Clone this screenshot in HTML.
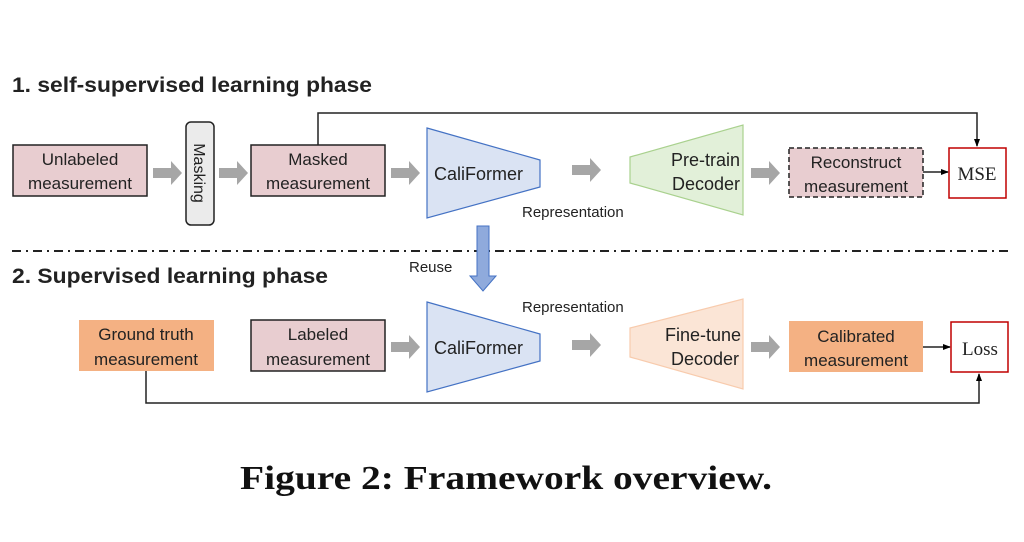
<!DOCTYPE html>
<html><head><meta charset="utf-8"><style>
html,body{margin:0;padding:0;background:#fff;}
svg{display:block;}
</style></head><body>
<svg width="1024" height="542" viewBox="0 0 1024 542" xmlns="http://www.w3.org/2000/svg">
<defs>
<marker id="ah" markerWidth="8" markerHeight="8" refX="7" refY="4" orient="auto" markerUnits="userSpaceOnUse">
<path d="M0,1 L8,4 L0,7 z" fill="#000"/></marker>
</defs>
<g font-family="Liberation Sans, sans-serif">
<g fill="#222">
<text x="12" y="92" font-size="21" font-weight="bold" textLength="360" lengthAdjust="spacingAndGlyphs">1. self-supervised learning phase</text>
<text x="12" y="283" font-size="21" font-weight="bold" textLength="316" lengthAdjust="spacingAndGlyphs">2. Supervised learning phase</text>
</g>
<polyline points="318,145 318,113 977,113 977,146" fill="none" stroke="#222" stroke-width="1.5" marker-end="url(#ah)"/>
<polyline points="146,371 146,403 979,403 979,374" fill="none" stroke="#222" stroke-width="1.5" marker-end="url(#ah)"/>
<line x1="923" y1="172" x2="948" y2="172" stroke="#222" stroke-width="1.5" marker-end="url(#ah)"/>
<line x1="923" y1="347" x2="950" y2="347" stroke="#222" stroke-width="1.5" marker-end="url(#ah)"/>
<line x1="12" y1="251" x2="1008" y2="251" stroke="#222" stroke-width="2" stroke-dasharray="9,5,2,5"/>
<g font-size="17" fill="#222" text-anchor="middle">
<rect x="13" y="145" width="134" height="51" fill="#e8cdd0" stroke="#222" stroke-width="1.5"/>
<text x="80" y="165">Unlabeled</text><text x="80" y="189">measurement</text>
<rect x="186" y="122" width="28" height="103" rx="5" fill="#ebebeb" stroke="#222" stroke-width="1.5"/>
<text transform="translate(194,173) rotate(90)" font-size="16">Masking</text>
<rect x="251" y="145" width="134" height="51" fill="#e8cdd0" stroke="#222" stroke-width="1.5"/>
<text x="318" y="165">Masked</text><text x="318" y="189">measurement</text>
<rect x="789" y="148" width="134" height="49" fill="#e8cdd0" stroke="#222" stroke-width="1.5" stroke-dasharray="5,3"/>
<text x="856" y="168">Reconstruct</text><text x="856" y="192">measurement</text>
<rect x="949" y="148" width="57" height="50" fill="#fff" stroke="#c00000" stroke-width="1.5"/>
<text x="977" y="180" font-family="Liberation Serif, serif" font-size="19">MSE</text>
<rect x="79" y="320" width="135" height="51" fill="#f4b183"/>
<text x="146" y="340">Ground truth</text><text x="146" y="365">measurement</text>
<rect x="251" y="320" width="134" height="51" fill="#e8cdd0" stroke="#222" stroke-width="1.5"/>
<text x="318" y="340">Labeled</text><text x="318" y="365">measurement</text>
<rect x="789" y="321" width="134" height="51" fill="#f4b183"/>
<text x="856" y="342">Calibrated</text><text x="856" y="366">measurement</text>
<rect x="951" y="322" width="57" height="50" fill="#fff" stroke="#c00000" stroke-width="1.5"/>
<text x="980" y="355" font-family="Liberation Serif, serif" font-size="19">Loss</text>
</g>
<polygon points="427,128 540,160 540,187 427,218" fill="#dae3f3" stroke="#4472c4" stroke-width="1.2"/>
<polygon points="427,302 540,334 540,361 427,392" fill="#dae3f3" stroke="#4472c4" stroke-width="1.2"/>
<polygon points="630,157 743,125 743,215 630,183" fill="#e2f0d9" stroke="#a9d18e" stroke-width="1.2"/>
<polygon points="630,328 743,299 743,389 630,357" fill="#fbe5d6" stroke="#f8cbad" stroke-width="1.2"/>
<g font-size="18" fill="#222">
<text x="434" y="180">CaliFormer</text>
<text x="434" y="354">CaliFormer</text>
<text x="740" y="166" text-anchor="end">Pre-train</text>
<text x="740" y="190" text-anchor="end">Decoder</text>
<text x="741" y="341" text-anchor="end">Fine-tune</text>
<text x="739" y="365" text-anchor="end">Decoder</text>
</g>
<g font-size="15" fill="#222">
<text x="522" y="217">Representation</text>
<text x="522" y="312">Representation</text>
<text x="409" y="272">Reuse</text>
</g>
<g fill="#a6a6a6">
<path d="M153,168 h18 v-7 l11,12 l-11,12 v-7 h-18 z"/>
<path d="M219,168 h18 v-7 l11,12 l-11,12 v-7 h-18 z"/>
<path d="M391,168 h18 v-7 l11,12 l-11,12 v-7 h-18 z"/>
<path d="M572,165 h18 v-7 l11,12 l-11,12 v-7 h-18 z"/>
<path d="M751,168 h18 v-7 l11,12 l-11,12 v-7 h-18 z"/>
<path d="M391,342 h18 v-7 l11,12 l-11,12 v-7 h-18 z"/>
<path d="M572,340 h18 v-7 l11,12 l-11,12 v-7 h-18 z"/>
<path d="M751,342 h18 v-7 l11,12 l-11,12 v-7 h-18 z"/>
</g>
<path d="M477,226 h12 v50 h7 l-13,15 l-13,-15 h7 z" fill="#8faadc" stroke="#4472c4" stroke-width="1"/>
<text x="240" y="489" font-family="Liberation Serif, serif" font-size="34" font-weight="bold" fill="#111" textLength="532" lengthAdjust="spacingAndGlyphs">Figure 2: Framework overview.</text>
</g>
</svg>
</body></html>
